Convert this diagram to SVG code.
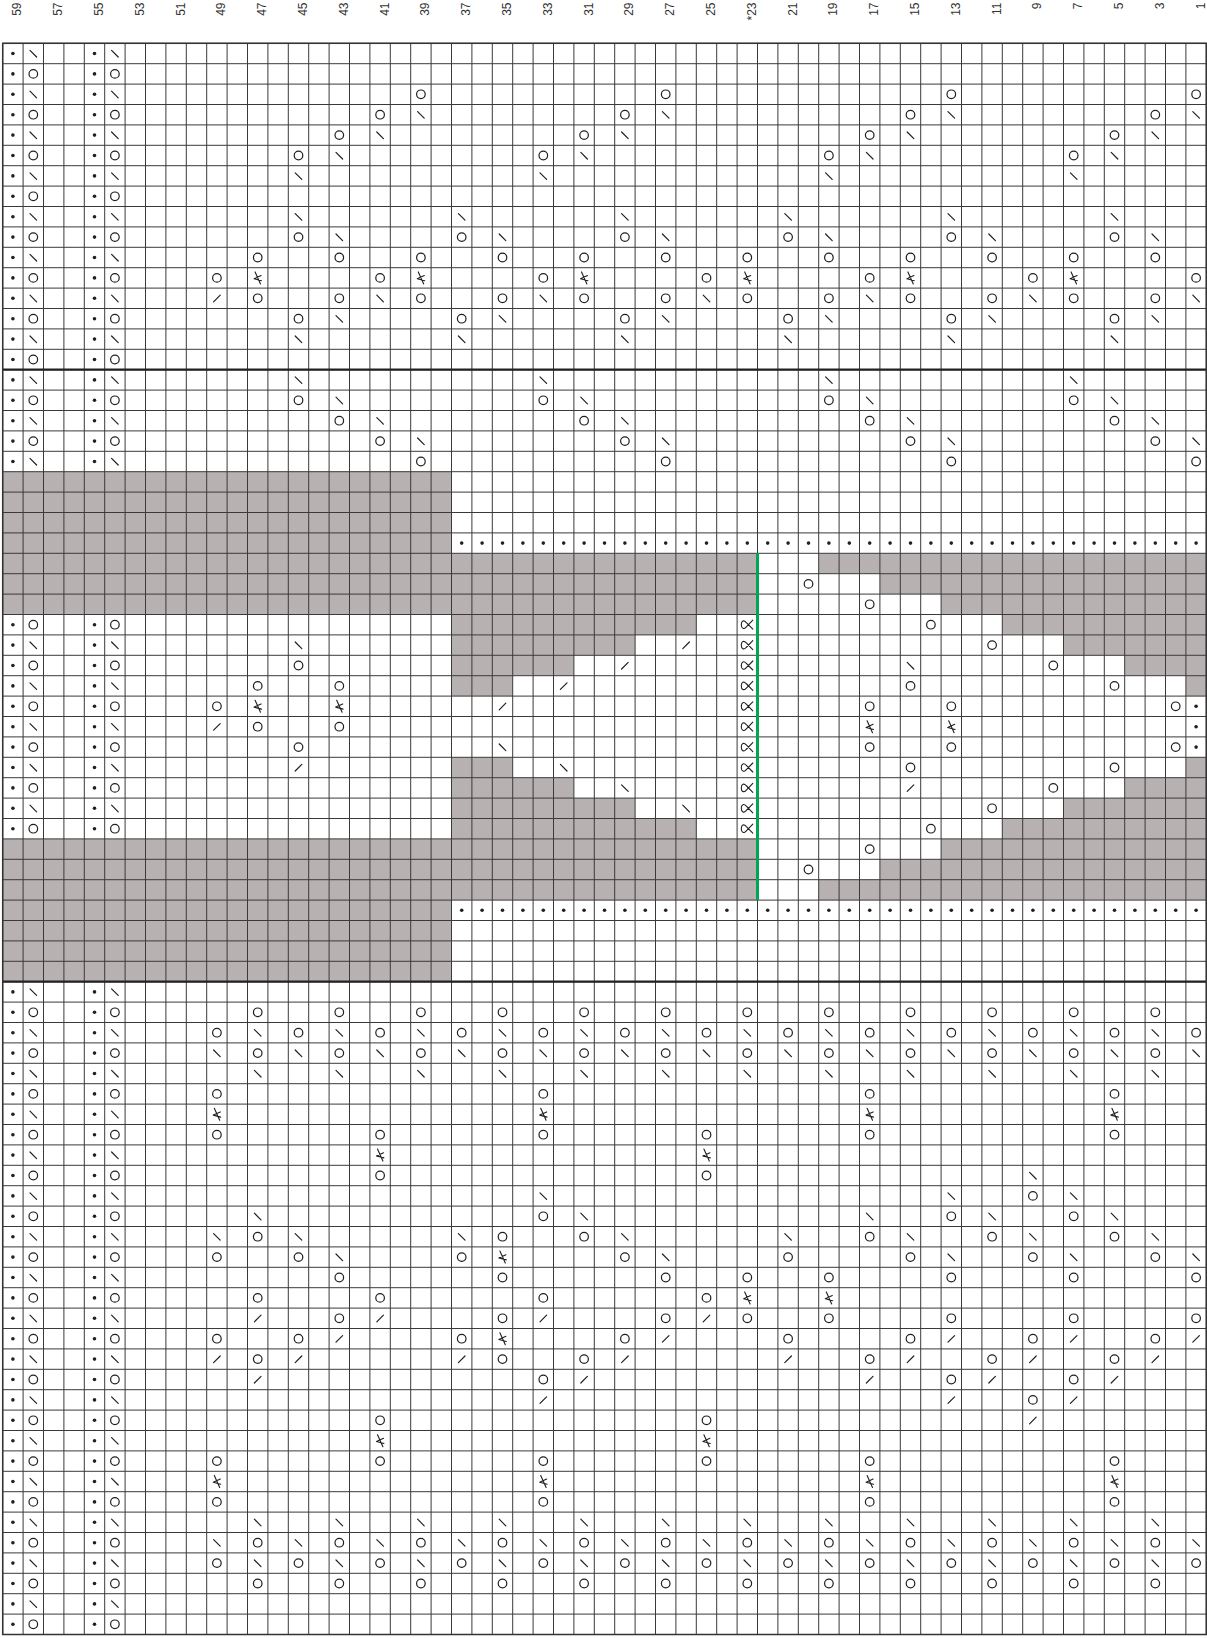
<svg xmlns="http://www.w3.org/2000/svg" width="1207" height="1638" viewBox="0 0 1207 1638">
<style>
.lbl text{font-family:"Liberation Sans",Arial,sans-serif;font-size:12px;fill:#333}
</style>
<defs>
<circle id="o" r="4.3" fill="none" stroke="#231f20" stroke-width="1.2"/>
<path id="b" d="M-3.3,-3.1L3.3,3.5" fill="none" stroke="#231f20" stroke-width="1.2" stroke-linecap="round"/>
<path id="f" d="M3.3,-3.1L-3.3,3.5" fill="none" stroke="#231f20" stroke-width="1.2" stroke-linecap="round"/>
<path id="k" d="M-2.6,-6L2.8,6M3.4,-2.4L-3.6,0.8L3.8,2.8" fill="none" stroke="#231f20" stroke-width="1.1" stroke-linecap="round" stroke-linejoin="round"/>
<path id="x" d="M5.5,-4.5L-1.2,2.4C-3.4,4.8 -6,4 -6,0C-6,-4 -3.4,-4.8 -1.2,-2.4L5.5,4.5" fill="none" stroke="#231f20" stroke-width="1.1" stroke-linecap="round"/>
<circle id="d" r="1.8" fill="#231f20"/>
<g id="LB"><use href="#d" x="12.9"/><use href="#b" x="33.3"/><use href="#d" x="94.5"/><use href="#b" x="114.9"/></g>
<g id="LO"><use href="#d" x="12.9"/><use href="#o" x="33.3"/><use href="#d" x="94.5"/><use href="#o" x="114.9"/></g>
<g id="oA"><use href="#o" x="257.7"/><use href="#o" x="339.3"/><use href="#o" x="420.9"/><use href="#o" x="502.5"/><use href="#o" x="584.1"/><use href="#o" x="665.7"/><use href="#o" x="747.3"/><use href="#o" x="828.9"/><use href="#o" x="910.5"/><use href="#o" x="992.1"/><use href="#o" x="1073.7"/><use href="#o" x="1155.3"/></g>
<g id="bA"><use href="#b" x="257.7"/><use href="#b" x="339.3"/><use href="#b" x="420.9"/><use href="#b" x="502.5"/><use href="#b" x="584.1"/><use href="#b" x="665.7"/><use href="#b" x="747.3"/><use href="#b" x="828.9"/><use href="#b" x="910.5"/><use href="#b" x="992.1"/><use href="#b" x="1073.7"/><use href="#b" x="1155.3"/></g>
<g id="oB"><use href="#o" x="216.9"/><use href="#o" x="298.5"/><use href="#o" x="380.1"/><use href="#o" x="461.7"/><use href="#o" x="543.3"/><use href="#o" x="624.9"/><use href="#o" x="706.5"/><use href="#o" x="788.1"/><use href="#o" x="869.7"/><use href="#o" x="951.3"/><use href="#o" x="1032.9"/><use href="#o" x="1114.5"/><use href="#o" x="1196.1"/></g>
<g id="bB"><use href="#b" x="216.9"/><use href="#b" x="298.5"/><use href="#b" x="380.1"/><use href="#b" x="461.7"/><use href="#b" x="543.3"/><use href="#b" x="624.9"/><use href="#b" x="706.5"/><use href="#b" x="788.1"/><use href="#b" x="869.7"/><use href="#b" x="951.3"/><use href="#b" x="1032.9"/><use href="#b" x="1114.5"/><use href="#b" x="1196.1"/></g>
<g id="R2"><use href="#o" x="420.9"/><use href="#o" x="665.7"/><use href="#o" x="951.3"/><use href="#o" x="1196.1"/></g>
<g id="R3"><use href="#o" x="380.1"/><use href="#o" x="624.9"/><use href="#o" x="910.5"/><use href="#o" x="1155.3"/><use href="#b" x="420.9"/><use href="#b" x="665.7"/><use href="#b" x="951.3"/><use href="#b" x="1196.1"/></g>
<g id="R4"><use href="#o" x="339.3"/><use href="#o" x="584.1"/><use href="#o" x="869.7"/><use href="#o" x="1114.5"/><use href="#b" x="380.1"/><use href="#b" x="624.9"/><use href="#b" x="910.5"/><use href="#b" x="1155.3"/></g>
<g id="R5"><use href="#o" x="298.5"/><use href="#o" x="543.3"/><use href="#o" x="828.9"/><use href="#o" x="1073.7"/><use href="#b" x="339.3"/><use href="#b" x="584.1"/><use href="#b" x="869.7"/><use href="#b" x="1114.5"/></g>
<g id="R6"><use href="#b" x="298.5"/><use href="#b" x="543.3"/><use href="#b" x="828.9"/><use href="#b" x="1073.7"/></g>
<g id="R8"><use href="#b" x="298.5"/><use href="#b" x="461.7"/><use href="#b" x="624.9"/><use href="#b" x="788.1"/><use href="#b" x="951.3"/><use href="#b" x="1114.5"/></g>
<g id="R9"><use href="#o" x="298.5"/><use href="#o" x="461.7"/><use href="#o" x="624.9"/><use href="#o" x="788.1"/><use href="#o" x="951.3"/><use href="#o" x="1114.5"/><use href="#b" x="339.3"/><use href="#b" x="502.5"/><use href="#b" x="665.7"/><use href="#b" x="828.9"/><use href="#b" x="992.1"/><use href="#b" x="1155.3"/></g>
<g id="G51"><use href="#o" x="216.9"/><use href="#o" x="543.3"/><use href="#o" x="869.7"/><use href="#o" x="1114.5"/></g>
<g id="K4"><use href="#k" x="216.9"/><use href="#k" x="543.3"/><use href="#k" x="869.7"/><use href="#k" x="1114.5"/></g>
<g id="G53"><use href="#o" x="216.9"/><use href="#o" x="380.1"/><use href="#o" x="543.3"/><use href="#o" x="706.5"/><use href="#o" x="869.7"/><use href="#o" x="1114.5"/></g>
<g id="K2"><use href="#k" x="380.1"/><use href="#k" x="706.5"/></g>
<g id="DR"><use href="#d" x="461.7"/><use href="#d" x="482.1"/><use href="#d" x="502.5"/><use href="#d" x="522.9"/><use href="#d" x="543.3"/><use href="#d" x="563.7"/><use href="#d" x="584.1"/><use href="#d" x="604.5"/><use href="#d" x="624.9"/><use href="#d" x="645.3"/><use href="#d" x="665.7"/><use href="#d" x="686.1"/><use href="#d" x="706.5"/><use href="#d" x="726.9"/><use href="#d" x="747.3"/><use href="#d" x="767.7"/><use href="#d" x="788.1"/><use href="#d" x="808.5"/><use href="#d" x="828.9"/><use href="#d" x="849.3"/><use href="#d" x="869.7"/><use href="#d" x="890.1"/><use href="#d" x="910.5"/><use href="#d" x="930.9"/><use href="#d" x="951.3"/><use href="#d" x="971.7"/><use href="#d" x="992.1"/><use href="#d" x="1012.5"/><use href="#d" x="1032.9"/><use href="#d" x="1053.3"/><use href="#d" x="1073.7"/><use href="#d" x="1094.1"/><use href="#d" x="1114.5"/><use href="#d" x="1134.9"/><use href="#d" x="1155.3"/><use href="#d" x="1175.7"/><use href="#d" x="1196.1"/></g>
</defs>
<rect width="1207" height="1638" fill="#fff"/>
<g id="shading" fill="#b7b1b1">
<rect x="2.7" y="471.7" width="448.8" height="142.8"/>
<rect x="2.7" y="838.9" width="448.8" height="142.8"/>
<rect x="451.5" y="553.3" width="306" height="61.2"/>
<rect x="451.5" y="838.9" width="306" height="61.2"/>
<rect x="818.7" y="553.3" width="387.6" height="20.4"/>
<rect x="879.9" y="573.7" width="326.4" height="20.4"/>
<rect x="941.1" y="594.1" width="265.2" height="20.4"/>
<rect x="451.5" y="614.5" width="244.8" height="20.4"/>
<rect x="1002.3" y="614.5" width="204" height="20.4"/>
<rect x="451.5" y="634.9" width="183.6" height="20.4"/>
<rect x="1063.5" y="634.9" width="142.8" height="20.4"/>
<rect x="451.5" y="655.3" width="122.4" height="20.4"/>
<rect x="1124.7" y="655.3" width="81.6" height="20.4"/>
<rect x="451.5" y="675.7" width="61.2" height="20.4"/>
<rect x="1185.9" y="675.7" width="20.4" height="20.4"/>
<rect x="451.5" y="757.3" width="61.2" height="20.4"/>
<rect x="1185.9" y="757.3" width="20.4" height="20.4"/>
<rect x="451.5" y="777.7" width="122.4" height="20.4"/>
<rect x="1124.7" y="777.7" width="81.6" height="20.4"/>
<rect x="451.5" y="798.1" width="183.6" height="20.4"/>
<rect x="1063.5" y="798.1" width="142.8" height="20.4"/>
<rect x="451.5" y="818.5" width="244.8" height="20.4"/>
<rect x="1002.3" y="818.5" width="204" height="20.4"/>
<rect x="941.1" y="838.9" width="265.2" height="20.4"/>
<rect x="879.9" y="859.3" width="326.4" height="20.4"/>
<rect x="818.7" y="879.7" width="387.6" height="20.4"/>
</g>
<g id="grid" fill="none" stroke="#3a3a3a" stroke-width="1">
<path d="M2.7 43.3V1634.5M23.1 43.3V1634.5M43.5 43.3V1634.5M63.9 43.3V1634.5M84.3 43.3V1634.5M104.7 43.3V1634.5M125.1 43.3V1634.5M145.5 43.3V1634.5M165.9 43.3V1634.5M186.3 43.3V1634.5M206.7 43.3V1634.5M227.1 43.3V1634.5M247.5 43.3V1634.5M267.9 43.3V1634.5M288.3 43.3V1634.5M308.7 43.3V1634.5M329.1 43.3V1634.5M349.5 43.3V1634.5M369.9 43.3V1634.5M390.3 43.3V1634.5M410.7 43.3V1634.5M431.1 43.3V1634.5M451.5 43.3V1634.5M471.9 43.3V1634.5M492.3 43.3V1634.5M512.7 43.3V1634.5M533.1 43.3V1634.5M553.5 43.3V1634.5M573.9 43.3V1634.5M594.3 43.3V1634.5M614.7 43.3V1634.5M635.1 43.3V1634.5M655.5 43.3V1634.5M675.9 43.3V1634.5M696.3 43.3V1634.5M716.7 43.3V1634.5M737.1 43.3V1634.5M757.5 43.3V1634.5M777.9 43.3V1634.5M798.3 43.3V1634.5M818.7 43.3V1634.5M839.1 43.3V1634.5M859.5 43.3V1634.5M879.9 43.3V1634.5M900.3 43.3V1634.5M920.7 43.3V1634.5M941.1 43.3V1634.5M961.5 43.3V1634.5M981.9 43.3V1634.5M1002.3 43.3V1634.5M1022.7 43.3V1634.5M1043.1 43.3V1634.5M1063.5 43.3V1634.5M1083.9 43.3V1634.5M1104.3 43.3V1634.5M1124.7 43.3V1634.5M1145.1 43.3V1634.5M1165.5 43.3V1634.5M1185.9 43.3V1634.5M1206.3 43.3V1634.5"/>
<path d="M2.7 43.3H1206.3M2.7 63.7H1206.3M2.7 84.1H1206.3M2.7 104.5H1206.3M2.7 124.9H1206.3M2.7 145.3H1206.3M2.7 165.7H1206.3M2.7 186.1H1206.3M2.7 206.5H1206.3M2.7 226.9H1206.3M2.7 247.3H1206.3M2.7 267.7H1206.3M2.7 288.1H1206.3M2.7 308.5H1206.3M2.7 328.9H1206.3M2.7 349.3H1206.3M2.7 369.7H1206.3M2.7 390.1H1206.3M2.7 410.5H1206.3M2.7 430.9H1206.3M2.7 451.3H1206.3M2.7 471.7H1206.3M2.7 492.1H1206.3M2.7 512.5H1206.3M2.7 532.9H1206.3M2.7 553.3H1206.3M2.7 573.7H1206.3M2.7 594.1H1206.3M2.7 614.5H1206.3M2.7 634.9H1206.3M2.7 655.3H1206.3M2.7 675.7H1206.3M2.7 696.1H1206.3M2.7 716.5H1206.3M2.7 736.9H1206.3M2.7 757.3H1206.3M2.7 777.7H1206.3M2.7 798.1H1206.3M2.7 818.5H1206.3M2.7 838.9H1206.3M2.7 859.3H1206.3M2.7 879.7H1206.3M2.7 900.1H1206.3M2.7 920.5H1206.3M2.7 940.9H1206.3M2.7 961.3H1206.3M2.7 981.7H1206.3M2.7 1002.1H1206.3M2.7 1022.5H1206.3M2.7 1042.9H1206.3M2.7 1063.3H1206.3M2.7 1083.7H1206.3M2.7 1104.1H1206.3M2.7 1124.5H1206.3M2.7 1144.9H1206.3M2.7 1165.3H1206.3M2.7 1185.7H1206.3M2.7 1206.1H1206.3M2.7 1226.5H1206.3M2.7 1246.9H1206.3M2.7 1267.3H1206.3M2.7 1287.7H1206.3M2.7 1308.1H1206.3M2.7 1328.5H1206.3M2.7 1348.9H1206.3M2.7 1369.3H1206.3M2.7 1389.7H1206.3M2.7 1410.1H1206.3M2.7 1430.5H1206.3M2.7 1450.9H1206.3M2.7 1471.3H1206.3M2.7 1491.7H1206.3M2.7 1512.1H1206.3M2.7 1532.5H1206.3M2.7 1552.9H1206.3M2.7 1573.3H1206.3M2.7 1593.7H1206.3M2.7 1614.1H1206.3M2.7 1634.5H1206.3"/>
<path d="M2.7 369.7H1206.3M2.7 981.7H1206.3" stroke-width="2.2" stroke="#222"/>
<rect x="2.7" y="43.3" width="1203.6" height="1591.2" stroke-width="1.5" stroke="#333"/>
</g>
<line id="green-line" x1="757.5" y1="553.3" x2="757.5" y2="900.1" stroke="#00a651" stroke-width="3"/>
<g id="left-columns">
<use href="#LB" y="53.5"/><use href="#LO" y="73.9"/><use href="#LB" y="94.3"/><use href="#LO" y="114.7"/><use href="#LB" y="135.1"/><use href="#LO" y="155.5"/><use href="#LB" y="175.9"/><use href="#LO" y="196.3"/><use href="#LB" y="216.7"/><use href="#LO" y="237.1"/><use href="#LB" y="257.5"/><use href="#LO" y="277.9"/><use href="#LB" y="298.3"/><use href="#LO" y="318.7"/><use href="#LB" y="339.1"/><use href="#LO" y="359.5"/><use href="#LB" y="379.9"/><use href="#LO" y="400.3"/><use href="#LB" y="420.7"/><use href="#LO" y="441.1"/><use href="#LB" y="461.5"/>
<use href="#LO" y="624.7"/><use href="#LB" y="645.1"/><use href="#LO" y="665.5"/><use href="#LB" y="685.9"/><use href="#LO" y="706.3"/><use href="#LB" y="726.7"/><use href="#LO" y="747.1"/><use href="#LB" y="767.5"/><use href="#LO" y="787.9"/><use href="#LB" y="808.3"/><use href="#LO" y="828.7"/>
<use href="#LB" y="991.9"/><use href="#LO" y="1012.3"/><use href="#LB" y="1032.7"/><use href="#LO" y="1053.1"/><use href="#LB" y="1073.5"/><use href="#LO" y="1093.9"/><use href="#LB" y="1114.3"/><use href="#LO" y="1134.7"/><use href="#LB" y="1155.1"/><use href="#LO" y="1175.5"/><use href="#LB" y="1195.9"/><use href="#LO" y="1216.3"/><use href="#LB" y="1236.7"/><use href="#LO" y="1257.1"/><use href="#LB" y="1277.5"/><use href="#LO" y="1297.9"/><use href="#LB" y="1318.3"/><use href="#LO" y="1338.7"/><use href="#LB" y="1359.1"/><use href="#LO" y="1379.5"/><use href="#LB" y="1399.9"/><use href="#LO" y="1420.3"/><use href="#LB" y="1440.7"/><use href="#LO" y="1461.1"/><use href="#LB" y="1481.5"/><use href="#LO" y="1501.9"/><use href="#LB" y="1522.3"/><use href="#LO" y="1542.7"/><use href="#LB" y="1563.1"/><use href="#LO" y="1583.5"/><use href="#LB" y="1603.9"/><use href="#LO" y="1624.3"/>
</g>
<g id="top-section">
<use href="#R2" y="94.3"/><use href="#R3" y="114.7"/><use href="#R4" y="135.1"/><use href="#R5" y="155.5"/><use href="#R6" y="175.9"/>
<use href="#R8" y="216.7"/><use href="#R9" y="237.1"/><use href="#oA" y="257.5"/>
<use href="#o" x="216.9" y="277.9"/><use href="#o" x="380.1" y="277.9"/><use href="#o" x="543.3" y="277.9"/><use href="#o" x="706.5" y="277.9"/><use href="#o" x="869.7" y="277.9"/><use href="#o" x="1032.9" y="277.9"/><use href="#o" x="1196.1" y="277.9"/>
<use href="#k" x="257.7" y="277.9"/><use href="#k" x="420.9" y="277.9"/><use href="#k" x="584.1" y="277.9"/><use href="#k" x="747.3" y="277.9"/><use href="#k" x="910.5" y="277.9"/><use href="#k" x="1073.7" y="277.9"/>
<use href="#f" x="216.9" y="298.3"/><use href="#b" x="380.1" y="298.3"/><use href="#b" x="543.3" y="298.3"/><use href="#b" x="706.5" y="298.3"/><use href="#b" x="869.7" y="298.3"/><use href="#b" x="1032.9" y="298.3"/><use href="#b" x="1196.1" y="298.3"/><use href="#oA" y="298.3"/>
<use href="#R9" y="318.7"/><use href="#R8" y="339.1"/>
<use href="#R6" y="379.9"/><use href="#R5" y="400.3"/><use href="#R4" y="420.7"/><use href="#R3" y="441.1"/><use href="#R2" y="461.5"/>
</g>
<g id="middle-section">
<use href="#DR" y="543.1"/><use href="#DR" y="910.3"/>
<use href="#o" x="808.5" y="583.9"/>
<use href="#o" x="869.7" y="604.3"/>
<use href="#o" x="930.9" y="624.7"/>
<use href="#b" x="298.5" y="645.1"/><use href="#f" x="686.1" y="645.1"/><use href="#o" x="992.1" y="645.1"/>
<use href="#o" x="298.5" y="665.5"/><use href="#f" x="624.9" y="665.5"/><use href="#b" x="910.5" y="665.5"/><use href="#o" x="1053.3" y="665.5"/>
<use href="#o" x="257.7" y="685.9"/><use href="#o" x="339.3" y="685.9"/><use href="#f" x="563.7" y="685.9"/><use href="#o" x="910.5" y="685.9"/><use href="#o" x="1114.5" y="685.9"/>
<use href="#o" x="216.9" y="706.3"/><use href="#k" x="257.7" y="706.3"/><use href="#k" x="339.3" y="706.3"/><use href="#f" x="502.5" y="706.3"/><use href="#o" x="869.7" y="706.3"/><use href="#o" x="951.3" y="706.3"/><use href="#o" x="1175.7" y="706.3"/><use href="#d" x="1196.1" y="706.3"/>
<use href="#f" x="216.9" y="726.7"/><use href="#o" x="257.7" y="726.7"/><use href="#o" x="339.3" y="726.7"/><use href="#k" x="869.7" y="726.7"/><use href="#k" x="951.3" y="726.7"/><use href="#d" x="1196.1" y="726.7"/>
<use href="#o" x="298.5" y="747.1"/><use href="#b" x="502.5" y="747.1"/><use href="#o" x="869.7" y="747.1"/><use href="#o" x="951.3" y="747.1"/><use href="#o" x="1175.7" y="747.1"/><use href="#d" x="1196.1" y="747.1"/>
<use href="#f" x="298.5" y="767.5"/><use href="#b" x="563.7" y="767.5"/><use href="#o" x="910.5" y="767.5"/><use href="#o" x="1114.5" y="767.5"/>
<use href="#b" x="624.9" y="787.9"/><use href="#f" x="910.5" y="787.9"/><use href="#o" x="1053.3" y="787.9"/>
<use href="#b" x="686.1" y="808.3"/><use href="#o" x="992.1" y="808.3"/>
<use href="#o" x="930.9" y="828.7"/>
<use href="#o" x="869.7" y="849.1"/>
<use href="#o" x="808.5" y="869.5"/>
<use href="#x" x="747.3" y="624.7"/><use href="#x" x="747.3" y="645.1"/><use href="#x" x="747.3" y="665.5"/><use href="#x" x="747.3" y="685.9"/><use href="#x" x="747.3" y="706.3"/><use href="#x" x="747.3" y="726.7"/><use href="#x" x="747.3" y="747.1"/><use href="#x" x="747.3" y="767.5"/><use href="#x" x="747.3" y="787.9"/><use href="#x" x="747.3" y="808.3"/><use href="#x" x="747.3" y="828.7"/>
</g>
<g id="bottom-section">
<use href="#oA" y="1012.3"/>
<use href="#oB" y="1032.7"/><use href="#bA" y="1032.7"/>
<use href="#bB" y="1053.1"/><use href="#oA" y="1053.1"/>
<use href="#bA" y="1073.5"/>
<use href="#G51" y="1093.9"/>
<use href="#K4" y="1114.3"/>
<use href="#G53" y="1134.7"/>
<use href="#K2" y="1155.1"/>
<use href="#o" x="380.1" y="1175.5"/><use href="#o" x="706.5" y="1175.5"/><use href="#b" x="1032.9" y="1175.5"/>
<use href="#b" x="543.3" y="1195.9"/><use href="#b" x="951.3" y="1195.9"/><use href="#b" x="1073.7" y="1195.9"/><use href="#o" x="1032.9" y="1195.9"/>
<use href="#b" x="257.7" y="1216.3"/><use href="#b" x="584.1" y="1216.3"/><use href="#b" x="869.7" y="1216.3"/><use href="#b" x="992.1" y="1216.3"/><use href="#b" x="1114.5" y="1216.3"/><use href="#o" x="543.3" y="1216.3"/><use href="#o" x="951.3" y="1216.3"/><use href="#o" x="1073.7" y="1216.3"/>
<use href="#b" x="216.9" y="1236.7"/><use href="#b" x="298.5" y="1236.7"/><use href="#b" x="461.7" y="1236.7"/><use href="#b" x="624.9" y="1236.7"/><use href="#b" x="788.1" y="1236.7"/><use href="#b" x="910.5" y="1236.7"/><use href="#b" x="1032.9" y="1236.7"/><use href="#b" x="1155.3" y="1236.7"/><use href="#o" x="257.7" y="1236.7"/><use href="#o" x="502.5" y="1236.7"/><use href="#o" x="584.1" y="1236.7"/><use href="#o" x="869.7" y="1236.7"/><use href="#o" x="992.1" y="1236.7"/><use href="#o" x="1114.5" y="1236.7"/>
<use href="#o" x="216.9" y="1257.1"/><use href="#o" x="298.5" y="1257.1"/><use href="#o" x="461.7" y="1257.1"/><use href="#o" x="624.9" y="1257.1"/><use href="#o" x="788.1" y="1257.1"/><use href="#o" x="910.5" y="1257.1"/><use href="#o" x="1032.9" y="1257.1"/><use href="#o" x="1155.3" y="1257.1"/><use href="#b" x="339.3" y="1257.1"/><use href="#b" x="665.7" y="1257.1"/><use href="#b" x="951.3" y="1257.1"/><use href="#b" x="1073.7" y="1257.1"/><use href="#b" x="1196.1" y="1257.1"/><use href="#k" x="502.5" y="1257.1"/>
<use href="#o" x="339.3" y="1277.5"/><use href="#o" x="502.5" y="1277.5"/><use href="#o" x="665.7" y="1277.5"/><use href="#o" x="747.3" y="1277.5"/><use href="#o" x="828.9" y="1277.5"/><use href="#o" x="951.3" y="1277.5"/><use href="#o" x="1073.7" y="1277.5"/><use href="#o" x="1196.1" y="1277.5"/>
<use href="#o" x="257.7" y="1297.9"/><use href="#o" x="380.1" y="1297.9"/><use href="#o" x="543.3" y="1297.9"/><use href="#o" x="706.5" y="1297.9"/><use href="#k" x="747.3" y="1297.9"/><use href="#k" x="828.9" y="1297.9"/>
<use href="#f" x="257.7" y="1318.3"/><use href="#f" x="380.1" y="1318.3"/><use href="#f" x="543.3" y="1318.3"/><use href="#f" x="706.5" y="1318.3"/><use href="#o" x="339.3" y="1318.3"/><use href="#o" x="502.5" y="1318.3"/><use href="#o" x="665.7" y="1318.3"/><use href="#o" x="747.3" y="1318.3"/><use href="#o" x="828.9" y="1318.3"/><use href="#o" x="951.3" y="1318.3"/><use href="#o" x="1073.7" y="1318.3"/><use href="#o" x="1196.1" y="1318.3"/>
<use href="#o" x="216.9" y="1338.7"/><use href="#o" x="298.5" y="1338.7"/><use href="#o" x="461.7" y="1338.7"/><use href="#o" x="624.9" y="1338.7"/><use href="#o" x="788.1" y="1338.7"/><use href="#o" x="910.5" y="1338.7"/><use href="#o" x="1032.9" y="1338.7"/><use href="#o" x="1155.3" y="1338.7"/><use href="#f" x="339.3" y="1338.7"/><use href="#f" x="665.7" y="1338.7"/><use href="#f" x="951.3" y="1338.7"/><use href="#f" x="1073.7" y="1338.7"/><use href="#f" x="1196.1" y="1338.7"/><use href="#k" x="502.5" y="1338.7"/>
<use href="#f" x="216.9" y="1359.1"/><use href="#f" x="298.5" y="1359.1"/><use href="#f" x="461.7" y="1359.1"/><use href="#f" x="624.9" y="1359.1"/><use href="#f" x="788.1" y="1359.1"/><use href="#f" x="910.5" y="1359.1"/><use href="#f" x="1032.9" y="1359.1"/><use href="#f" x="1155.3" y="1359.1"/><use href="#o" x="257.7" y="1359.1"/><use href="#o" x="502.5" y="1359.1"/><use href="#o" x="584.1" y="1359.1"/><use href="#o" x="869.7" y="1359.1"/><use href="#o" x="992.1" y="1359.1"/><use href="#o" x="1114.5" y="1359.1"/>
<use href="#f" x="257.7" y="1379.5"/><use href="#f" x="584.1" y="1379.5"/><use href="#f" x="869.7" y="1379.5"/><use href="#f" x="992.1" y="1379.5"/><use href="#f" x="1114.5" y="1379.5"/><use href="#o" x="543.3" y="1379.5"/><use href="#o" x="951.3" y="1379.5"/><use href="#o" x="1073.7" y="1379.5"/>
<use href="#f" x="543.3" y="1399.9"/><use href="#f" x="951.3" y="1399.9"/><use href="#f" x="1073.7" y="1399.9"/><use href="#o" x="1032.9" y="1399.9"/>
<use href="#o" x="380.1" y="1420.3"/><use href="#o" x="706.5" y="1420.3"/><use href="#f" x="1032.9" y="1420.3"/>
<use href="#K2" y="1440.7"/>
<use href="#G53" y="1461.1"/>
<use href="#K4" y="1481.5"/>
<use href="#G51" y="1501.9"/>
<use href="#bA" y="1522.3"/>
<use href="#bB" y="1542.7"/><use href="#oA" y="1542.7"/>
<use href="#oB" y="1563.1"/><use href="#bA" y="1563.1"/>
<use href="#oA" y="1583.5"/>
</g>
<g id="column-numbers" class="lbl" text-anchor="end">
<text transform="translate(21.4,2.5) rotate(-90)">59</text>
<text transform="translate(62.2,2.5) rotate(-90)">57</text>
<text transform="translate(103,2.5) rotate(-90)">55</text>
<text transform="translate(143.8,2.5) rotate(-90)">53</text>
<text transform="translate(184.6,2.5) rotate(-90)">51</text>
<text transform="translate(225.4,2.5) rotate(-90)">49</text>
<text transform="translate(266.2,2.5) rotate(-90)">47</text>
<text transform="translate(307,2.5) rotate(-90)">45</text>
<text transform="translate(347.8,2.5) rotate(-90)">43</text>
<text transform="translate(388.6,2.5) rotate(-90)">41</text>
<text transform="translate(429.4,2.5) rotate(-90)">39</text>
<text transform="translate(470.2,2.5) rotate(-90)">37</text>
<text transform="translate(511,2.5) rotate(-90)">35</text>
<text transform="translate(551.8,2.5) rotate(-90)">33</text>
<text transform="translate(592.6,2.5) rotate(-90)">31</text>
<text transform="translate(633.4,2.5) rotate(-90)">29</text>
<text transform="translate(674.2,2.5) rotate(-90)">27</text>
<text transform="translate(715,2.5) rotate(-90)">25</text>
<text transform="translate(755.8,2.5) rotate(-90)">*23</text>
<text transform="translate(796.6,2.5) rotate(-90)">21</text>
<text transform="translate(837.4,2.5) rotate(-90)">19</text>
<text transform="translate(878.2,2.5) rotate(-90)">17</text>
<text transform="translate(919,2.5) rotate(-90)">15</text>
<text transform="translate(959.8,2.5) rotate(-90)">13</text>
<text transform="translate(1000.6,2.5) rotate(-90)">11</text>
<text transform="translate(1041.4,2.5) rotate(-90)">9</text>
<text transform="translate(1082.2,2.5) rotate(-90)">7</text>
<text transform="translate(1123,2.5) rotate(-90)">5</text>
<text transform="translate(1163.8,2.5) rotate(-90)">3</text>
<text transform="translate(1204.6,2.5) rotate(-90)">1</text>
</g>
</svg>
